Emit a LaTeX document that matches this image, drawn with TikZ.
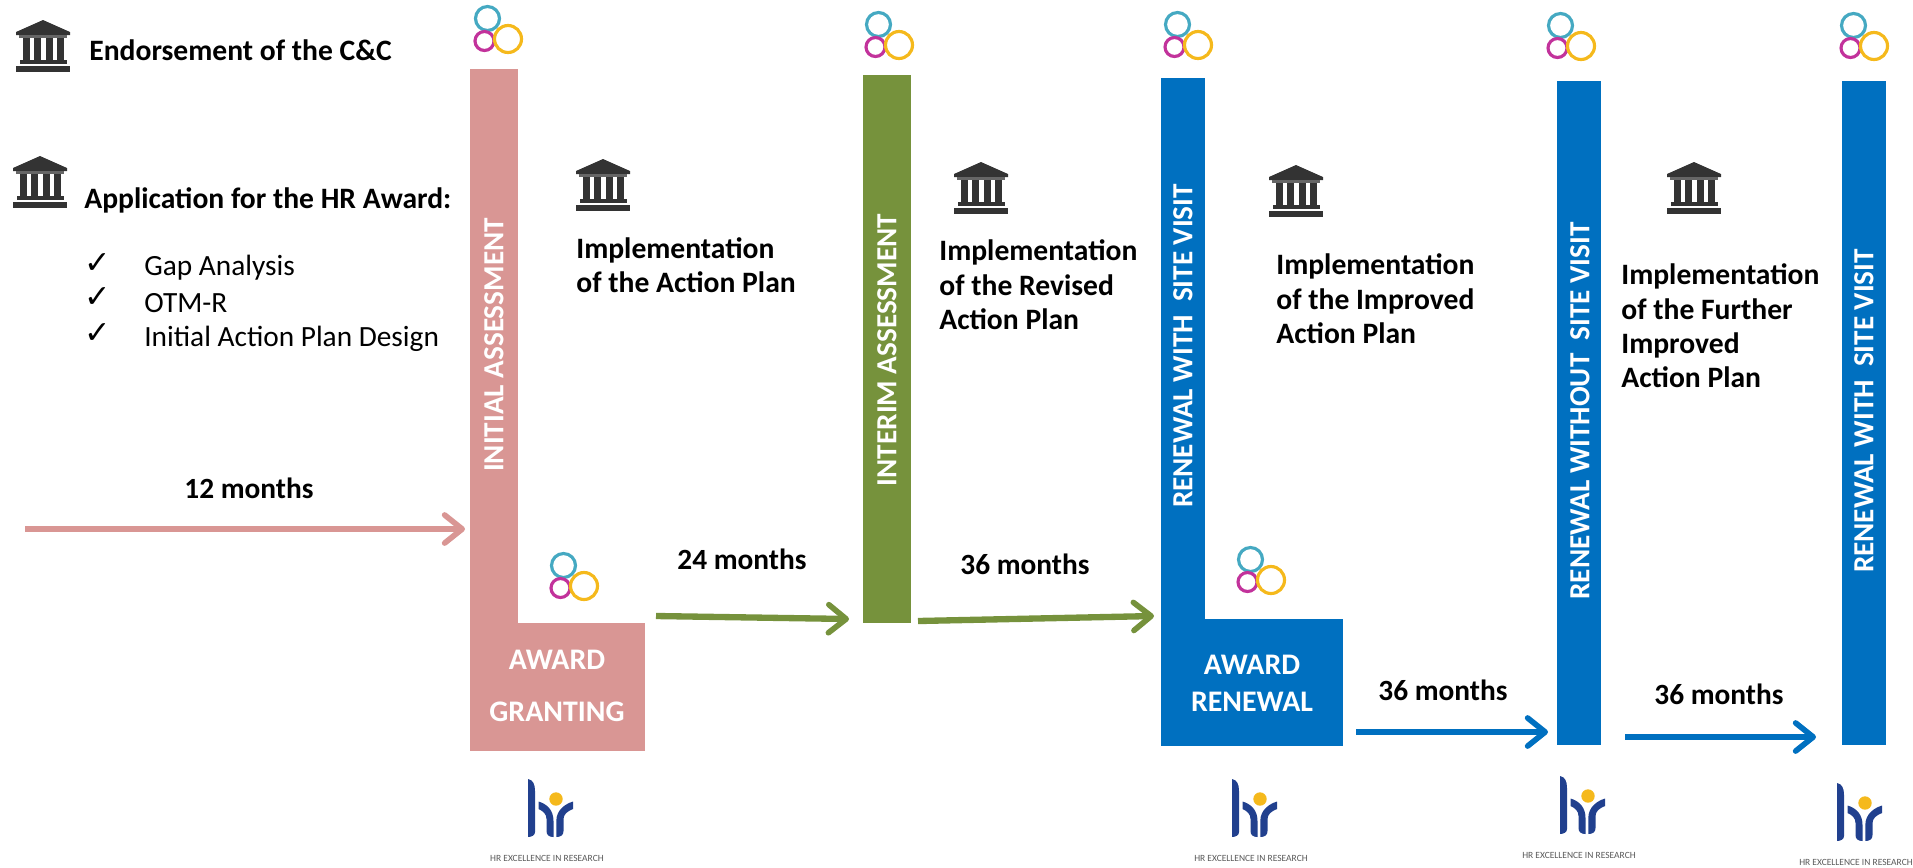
\documentclass[tikz,border=0pt]{standalone}
\usepackage{fontspec}
\setmainfont{Carlito}
\newfontfamily\symfont{DejaVu Sans}
\usetikzlibrary{arrows.meta}
\definecolor{pinkc}{HTML}{D99694}
\definecolor{greenc}{HTML}{76923C}
\definecolor{bluec}{HTML}{0070C0}
\definecolor{bankc}{HTML}{333333}
\definecolor{navyc}{HTML}{21408E}
\definecolor{sunc}{HTML}{F5B91C}
\definecolor{tealc}{HTML}{45A9C2}
\definecolor{magc}{HTML}{C2329B}
\def\px{0.02cm}
\tikzset{
  x=0.02cm,y=-0.02cm,
  shapebox/.style={fill=#1,draw=none,inner sep=0pt,anchor=north west},
  barlabel/.style={text=white,font=\bfseries\fontsize{16.6}{18}\selectfont,rotate=90,inner sep=0pt},
  footlabel/.style={text=white,font=\bfseries\fontsize{17}{18}\selectfont,inner sep=0pt},
  plain/.style={font=\fontsize{16.7}{19.6}\selectfont,inner sep=0pt,anchor=west},
  boldtext/.style={font=\bfseries\fontsize{16.85}{19.6}\selectfont,inner sep=0pt,anchor=west,align=left},
  months/.style={font=\bfseries\fontsize{16.7}{18}\selectfont,inner sep=0pt},
  flow/.style={line width=3.6pt,-{Straight Barb[length=10pt,width=16pt,line width=3.2pt,round]},draw=#1},
  bank/.pic={
    \fill[bankc] (0,-26) -- (27,-14) -- (27,-11) -- (-27,-11) -- (-27,-14) -- cycle;
    \fill[bankc!75] (-24,-11) rectangle (24,-8);
    \foreach \cx in {-17,-6,6,17}{\fill[bankc] (\cx-3.5,-8) rectangle (\cx+3.5,14);}
    \fill[bankc] (-23,14) rectangle (24,18);
    \fill[bankc] (-27,20) rectangle (27,26);
  },
  rings/.pic={
    \draw[tealc,line width=1.8pt] (14.5,13.5) circle (12);
    \draw[magc,line width=1.8pt] (11.5,36) circle (9.5);
    \draw[sunc,line width=1.8pt] (35,34) circle (13.5);
  },
  hrlogo/.pic={
    \fill[sunc] (0,0) circle (6.7);
    \fill[navyc] (-28,-20) .. controls (-23,-19) and (-21,-15) .. (-21,-8) -- (-21,33) .. controls (-21,36) and (-24,38) .. (-28,38) -- cycle;
    \fill[navyc] (-17.5,2.5) .. controls (-9,5) and (-2.5,11) .. (-2.5,22) -- (-2.5,38) .. controls (-7,38) and (-9.5,36) .. (-9.5,32) -- (-9.5,20) .. controls (-9.5,15) and (-13,12) .. (-17.5,10) -- cycle;
    \fill[navyc] (17,2.5) .. controls (9,5) and (0.3,11) .. (0.3,22) -- (0.3,38) .. controls (5,38) and (7.5,36) .. (7.5,32) -- (7.5,20) .. controls (7.5,15) and (12,12) .. (17,10) -- cycle;
    \node[inner sep=0pt,text=black!65,font=\fontsize{5.4}{6}\selectfont] at (-9,59) {HR EXCELLENCE IN RESEARCH};
  }
}
\begin{document}
\begin{tikzpicture}
\useasboundingbox (0,0) rectangle (1913,867);
% bars
\node[shapebox=pinkc,minimum width=48*\px,minimum height=682*\px] (b1) at (470,69) {};
\node[shapebox=pinkc,minimum width=175*\px,minimum height=128*\px] (f1) at (470,623) {};
\node[shapebox=greenc,minimum width=48*\px,minimum height=548*\px] (b2) at (863,75) {};
\node[shapebox=bluec,minimum width=44*\px,minimum height=667*\px] (b3) at (1161,78) {};
\node[shapebox=bluec,minimum width=182*\px,minimum height=127*\px] (f3) at (1161,618.5) {};
\node[shapebox=bluec,minimum width=44*\px,minimum height=664*\px] (b4) at (1557,81) {};
\node[shapebox=bluec,minimum width=44*\px,minimum height=664*\px] (b5) at (1842,81) {};
% bar labels
\node[barlabel] (l1) at (494,345) {INITIAL ASSESSMENT};
\node[barlabel] (l2) at (887,350) {INTERIM ASSESSMENT};
\node[barlabel] (l3) at (1183,346) {RENEWAL WITH\ \ SITE VISIT};
\node[barlabel] (l4) at (1580,411) {RENEWAL WITHOUT\ \ SITE VISIT};
\node[barlabel] (l5) at (1864,411) {RENEWAL WITH\ \ SITE VISIT};
\node[footlabel] (a1) at (557,660) {AWARD};
\node[footlabel] (a2) at (557,712) {GRANTING};
\node[footlabel] (a3) at (1252,665) {AWARD};
\node[footlabel] (a4) at (1252,702) {RENEWAL};
% left text
\node[boldtext] (t1) at (89,50) {Endorsement of the C\&C};
\node[boldtext] (t2) at (84,200) {Application for the HR Award:};
\node[inner sep=0pt,font=\symfont\fontsize{18}{20}\selectfont] (c1) at (98,264) {✓};
\node[inner sep=0pt,font=\symfont\fontsize{18}{20}\selectfont] (c2) at (98,298) {✓};
\node[inner sep=0pt,font=\symfont\fontsize{18}{20}\selectfont] (c3) at (98,334) {✓};
\node[plain] (g1) at (144,268) {Gap Analysis};
\node[plain] (g2) at (144,303) {OTM-R};
\node[plain] (g3) at (144,339) {Initial Action Plan Design};
% implementation text
\node[boldtext] (i1) at (576,265) {Implementation\\of the Action Plan};
\node[boldtext] (i2) at (939,285) {Implementation\\of the Revised\\Action Plan};
\node[boldtext] (i3) at (1276,299) {Implementation\\of the Improved\\Action Plan};
\node[boldtext] (i4) at (1621,326) {Implementation\\of the Further\\Improved\\Action Plan};
% month labels
\node[months] (m1) at (249,488) {12 months};
\node[months] (m2) at (742,559) {24 months};
\node[months] (m3) at (1025,564) {36 months};
\node[months] (m4) at (1443,690) {36 months};
\node[months] (m5) at (1719,694) {36 months};
% arrows
\coordinate (s1) at (25,529); \coordinate (e1) at (465,529);
\coordinate (s2) at (656,616); \coordinate (e2) at (849,619);
\coordinate (s3) at (918,621); \coordinate (e3) at (1154,616);
\coordinate (s4) at (1356,732); \coordinate (e4) at (1548,732);
\coordinate (s5) at (1625,737); \coordinate (e5) at (1816,737);
\draw[flow=pinkc] (s1) -- (e1);
\draw[flow=greenc] (s2) -- (e2);
\draw[flow=greenc] (s3) -- (e3);
\draw[flow=bluec] (s4) -- (e4);
\draw[flow=bluec] (s5) -- (e5);
% icons
\pic at (43,46) {bank};
\pic at (40,182) {bank};
\pic at (603,185) {bank};
\pic at (981,188) {bank};
\pic at (1296,191) {bank};
\pic at (1694,188) {bank};
\pic at (473,5) {rings};
\pic at (864,11) {rings};
\pic at (1163,11) {rings};
\pic at (1546,12) {rings};
\pic at (1839,12) {rings};
\pic at (549,552) {rings};
\pic at (1236,546) {rings};
\pic at (556,799) {hrlogo};
\pic at (1260,799) {hrlogo};
\pic at (1588,796) {hrlogo};
\pic at (1865,803) {hrlogo};
\end{tikzpicture}
\end{document}
